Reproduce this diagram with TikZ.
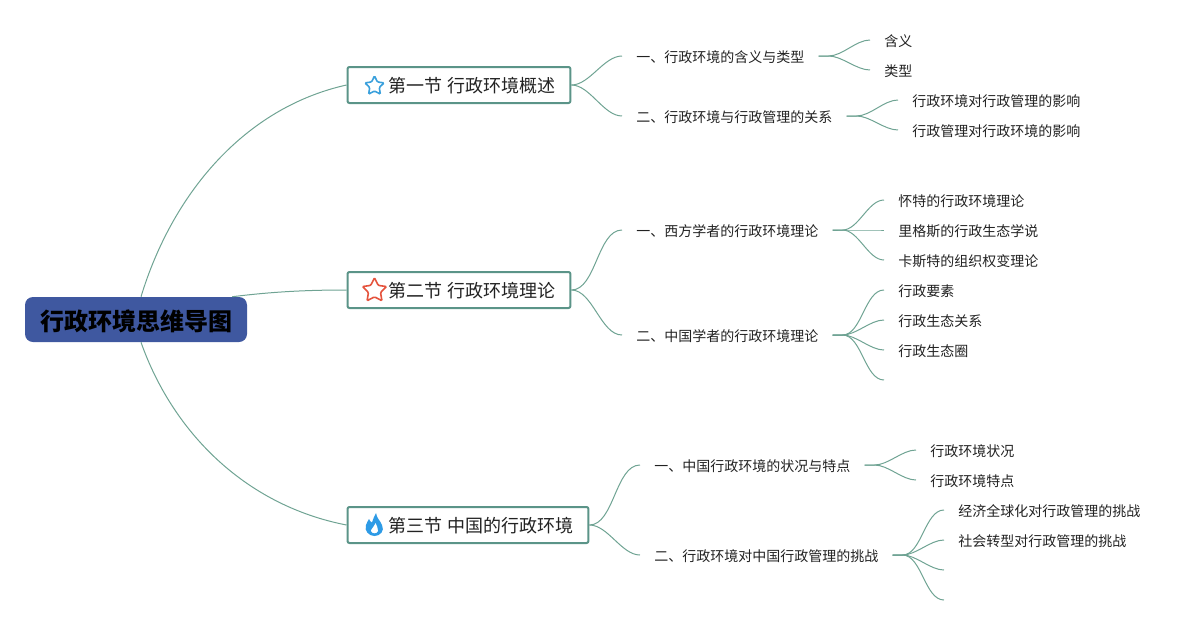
\documentclass[tikz,border=0pt]{standalone}
\usepackage{fontspec}
\setmainfont{Noto Sans CJK SC}
\usetikzlibrary{shapes.geometric}
\definecolor{linkc}{HTML}{6FA393}
\definecolor{boxc}{HTML}{5B9488}
\definecolor{rootc}{HTML}{3F58A0}
\definecolor{txtc}{HTML}{222222}
\definecolor{bluec}{HTML}{3AA0DC}
\definecolor{redc}{HTML}{E5533D}
\definecolor{flamec}{HTML}{2E9BE6}
\tikzset{
	rootbox/.style={rectangle,rounded corners=6pt,fill=rootc,text=black,font=\bfseries\fontsize{18}{20}\selectfont,minimum width=166.5pt,minimum height=33.75pt,inner sep=0pt,text height=18pt,text depth=2.2pt},
	secbox/.style={rectangle,rounded corners=1.5pt,draw=boxc,line width=1.5pt,fill=white,text=txtc,font=\fontsize{13.5}{16}\selectfont,minimum height=27pt,inner xsep=11.6pt,inner ysep=0pt,anchor=west,text height=13.3pt,text depth=1.6pt,execute at begin node={\hspace*{19.5pt}}},
	topic/.style={text=txtc,font=\fontsize{10.5}{13}\selectfont,inner xsep=10.5pt,inner ysep=1pt,anchor=west,text height=11.4pt,text depth=2pt},
	link/.style={draw=linkc,line width=0.75pt},
	fan/.style={out=0,in=180,looseness=0.8},
	icon/.style={star,star points=5,star point ratio=2,inner sep=0pt,line width=1.2pt,rounded corners=0.8pt}
}
\begin{document}
\begin{tikzpicture}[x=0.75pt,y=-0.75pt]
	\useasboundingbox (0,0) rectangle (1200,625);

	\node [rootbox] (root) at (136,319.5) {行政环境思维导图};

	\node [secbox] (sec1) at (346.5,85) {第一节 行政环境概述};
	\node [secbox] (sec2) at (346.5,290) {第二节 行政环境理论};
	\node [secbox] (sec3) at (346.5,525) {第三节 中国的行政环境};

	\node [icon,draw=bluec,minimum size=15pt] (star1) at (374.5,86) {};
	\node [icon,draw=redc,minimum size=19pt] (star2) at (374.5,290.5) {};
	\fill [flamec] (376,513) .. controls (377,519) and (380,520) .. (382,525) .. controls (385,531) and (380,536) .. (374.5,536) .. controls (369,536) and (364,531) .. (366,525) .. controls (367,522) and (368,521) .. (369,519) .. controls (370,521) and (370.5,522) .. (372,522.5) .. controls (373,519) and (374,517) .. (376,513) -- cycle;
	\fill [white] (375.5,523) .. controls (376,526) and (379,528) .. (378,531) .. controls (377,534) and (372,534) .. (371,531) .. controls (371,529) and (374,527) .. (375.5,523) -- cycle;

	\node [topic] (a1) at (622,56) {一、行政环境的含义与类型};
	\node [topic] (a2) at (622,116) {二、行政环境与行政管理的关系};
	\node [topic] (b1) at (622,230) {一、西方学者的行政环境理论};
	\node [topic] (b2) at (622,335) {二、中国学者的行政环境理论};
	\node [topic] (c1) at (640,465) {一、中国行政环境的状况与特点};
	\node [topic] (c2) at (640,555) {二、行政环境对中国行政管理的挑战};

	\node [topic] (a11) at (870,40) {含义};
	\node [topic] (a12) at (870,70) {类型};
	\node [topic] (a21) at (898,100) {行政环境对行政管理的影响};
	\node [topic] (a22) at (898,130) {行政管理对行政环境的影响};
	\node [topic] (b11) at (884,200) {怀特的行政环境理论};
	\node [topic] (b12) at (884,230) {里格斯的行政生态学说};
	\node [topic] (b13) at (884,260) {卡斯特的组织权变理论};
	\node [topic] (b21) at (884,290) {行政要素};
	\node [topic] (b22) at (884,320) {行政生态关系};
	\node [topic] (b23) at (884,350) {行政生态圈};
	\coordinate (b24) at (884,380);
	\node [topic] (c11) at (916,450) {行政环境状况};
	\node [topic] (c12) at (916,480) {行政环境特点};
	\node [topic] (c21) at (944,510) {经济全球化对行政管理的挑战};
	\node [topic] (c22) at (944,540) {社会转型对行政管理的挑战};
	\coordinate (c23) at (944,570);
	\coordinate (c24) at (944,600);

	\draw [link] ([xshift=3.75pt]root.north) .. controls +(31,-102) and +(-103,23) .. (sec1.west);
	\draw [link] ([xshift=-11.25pt]root.north east) .. controls +(40,-5) and +(-40,0) .. (sec2.west);
	\draw [link] ([xshift=3.75pt]root.south) .. controls +(31,88) and +(-103,-20) .. (sec3.west);

	\draw [link] (sec1.east) to [fan] (a1.west);
	\draw [link] (sec1.east) to [fan] (a2.west);
	\draw [link] (sec2.east) to [fan] (b1.west);
	\draw [link] (sec2.east) to [fan] (b2.west);
	\draw [link] (sec3.east) to [fan] (c1.west);
	\draw [link] (sec3.east) to [fan] (c2.west);

	\draw [link] (a1.east) -- ++(10,0) to [fan] (a11.west);
	\draw [link] (a1.east) -- ++(10,0) to [fan] (a12.west);
	\draw [link] (a2.east) -- ++(10,0) to [fan] (a21.west);
	\draw [link] (a2.east) -- ++(10,0) to [fan] (a22.west);
	\draw [link] (b1.east) -- ++(10,0) to [fan] (b11.west);
	\draw [link] (b1.east) -- ++(10,0) to [fan] (b12.west);
	\draw [link] (b1.east) -- ++(10,0) to [fan] (b13.west);
	\draw [link] (b2.east) -- ++(10,0) to [fan] (b21.west);
	\draw [link] (b2.east) -- ++(10,0) to [fan] (b22.west);
	\draw [link] (b2.east) -- ++(10,0) to [fan] (b23.west);
	\draw [link] (b2.east) -- ++(10,0) to [fan] (b24);
	\draw [link] (c1.east) -- ++(10,0) to [fan] (c11.west);
	\draw [link] (c1.east) -- ++(10,0) to [fan] (c12.west);
	\draw [link] (c2.east) -- ++(10,0) to [fan] (c21.west);
	\draw [link] (c2.east) -- ++(10,0) to [fan] (c22.west);
	\draw [link] (c2.east) -- ++(10,0) to [fan] (c23);
	\draw [link] (c2.east) -- ++(10,0) to [fan] (c24);
\end{tikzpicture}
\end{document}
